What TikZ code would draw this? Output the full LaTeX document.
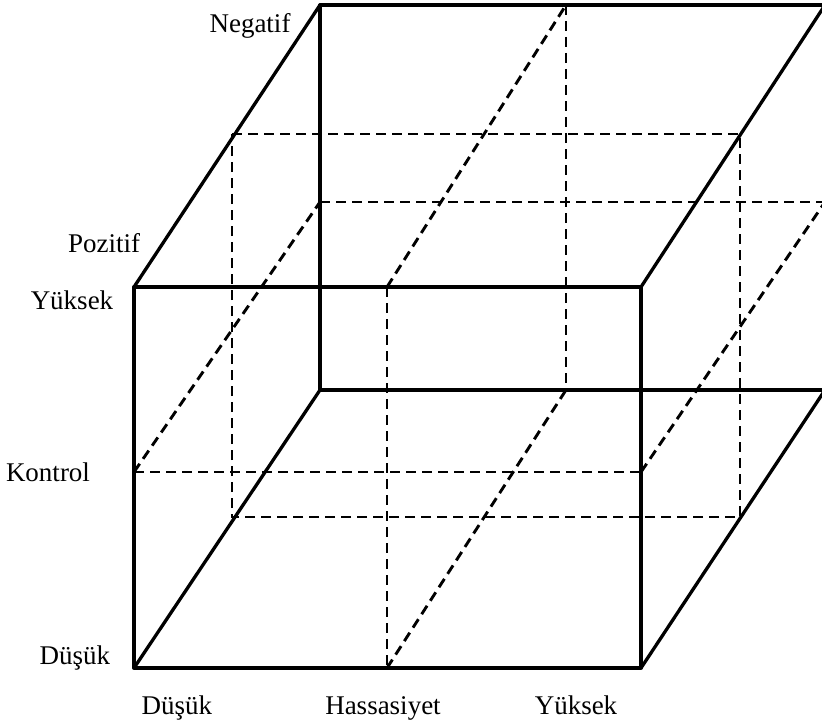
\documentclass[tikz,border=0pt]{standalone}
\usepackage{fontspec}
\setmainfont{Liberation Serif}
\begin{document}
\begin{tikzpicture}[x=1pt,y=-1pt,
  edge/.style={line width=3.3pt, line cap=round, line join=round},
  grid/.style={line width=2.9pt, dash pattern=on 10pt off 6pt},
  lbl/.style={font=\fontsize{27}{31}\selectfont, inner sep=0pt, anchor=base}]
\useasboundingbox (0,0) rectangle (822,725);

% box corners: front face
\coordinate (A) at (134,287);
\coordinate (B) at (641,287);
\coordinate (C) at (641,668);
\coordinate (D) at (134,668);
% back face
\coordinate (E) at (320,5);
\coordinate (F) at (825,5);
\coordinate (G) at (825,390);
\coordinate (H) at (320,390);
% control level on front and back faces
\coordinate (KA) at (134,472);
\coordinate (KB) at (641,472);
\coordinate (KE) at (320,202);
\coordinate (KF) at (825,202);
% mid-depth section
\coordinate (M1) at (232,134);
\coordinate (M2) at (740,134);
\coordinate (M3) at (740,517);
\coordinate (M4) at (232,517);
% sensitivity mid-plane
\coordinate (S1) at (387,287);
\coordinate (S2) at (387,668);
\coordinate (S3) at (566,5);
\coordinate (S4) at (566,390);

\begin{scope}
\clip (0,0) rectangle (822,725);
% dashed dividing planes
\draw[grid] (KA) -- (KB);
\draw[grid] (KE) -- (KF);
\draw[grid] (KA) -- (KE);
\draw[grid] (KB) -- (KF);
\draw[grid] (M1) -- (M2) -- (M3) -- (M4) -- cycle;
\draw[grid] (S1) -- (S2);
\draw[grid] (S3) -- (S4);
\draw[grid] (S1) -- (S3);
\draw[grid] (S2) -- (S4);
% solid box edges
\draw[edge] (A) -- (B) -- (C) -- (D) -- cycle;
\draw[edge] (E) -- (F);
\draw[edge] (E) -- (H) -- (G);
\draw[edge] (A) -- (E);
\draw[edge] (D) -- (H);
\draw[edge] (B) -- (F);
\draw[edge] (C) -- (G);
\end{scope}

% axis labels
\node[lbl] (neg) at (250,33) {Negatif};
\node[lbl] (poz) at (104,252) {Pozitif};
\node[lbl] (yuk1) at (72,309) {Yüksek};
\node[lbl] (kon) at (48,481) {Kontrol};
\node[lbl] (dus1) at (75,664) {Düşük};
\node[lbl] (dus2) at (177,714) {Düşük};
\node[lbl] (has) at (383,714) {Hassasiyet};
\node[lbl] (yuk2) at (576,714) {Yüksek};
\end{tikzpicture}
\end{document}
